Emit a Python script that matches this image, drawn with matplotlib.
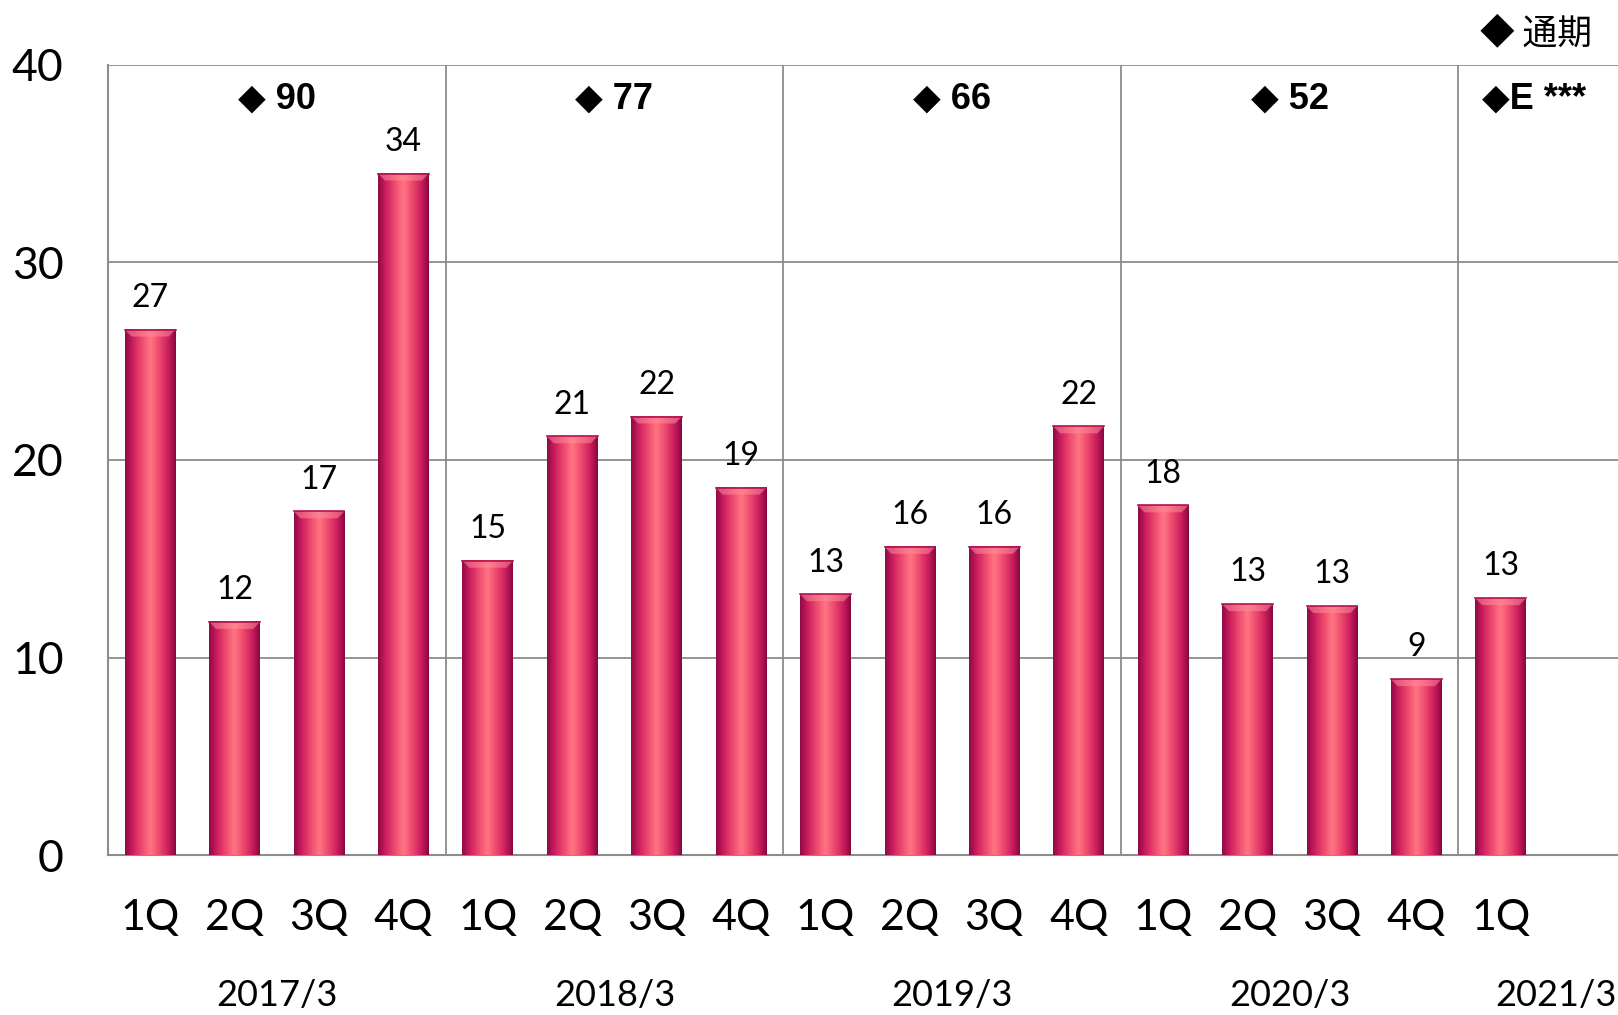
import numpy as np
import matplotlib.pyplot as plt
from matplotlib.colors import LinearSegmentedColormap
import matplotlib.transforms as mtransforms

plt.rcParams['font.family'] = ['Lato', 'Noto Sans CJK JP', 'DejaVu Sans']

quarters = ['1Q', '2Q', '3Q', '4Q'] * 4 + ['1Q']
values = [26.6, 11.8, 17.4, 34.5, 14.9, 21.2, 22.2, 18.6,
          13.2, 15.6, 15.6, 21.7, 17.7, 12.7, 12.6, 8.9, 13.0]
labels = ['27', '12', '17', '34', '15', '21', '22', '19',
          '13', '16', '16', '22', '18', '13', '13', '9', '13']
years = ['2017/3', '2018/3', '2019/3', '2020/3', '2021/3']
totals = ['◆ 90', '◆ 77', '◆ 66', '◆ 52', '◆E ***']

fig = plt.figure(figsize=(16.18, 10.15), dpi=100)
ax = fig.add_axes([108/1618, 1 - 855/1015, 1 - 108/1618, (855 - 65)/1015])

x = np.arange(len(values))

cmap = LinearSegmentedColormap.from_list('bar', [
    (0.0, '#8e0a46'), (0.15, '#cc1d5e'), (0.35, '#f04f70'),
    (0.5, '#ff7584'), (0.65, '#f04f70'), (0.85, '#cc1d5e'), (1.0, '#86083f')])
grad = np.linspace(0, 1, 256).reshape(1, -1)
w = 0.6
for xi, v in zip(x, values):
    ax.imshow(grad, cmap=cmap, aspect='auto', extent=(xi - w/2, xi + w/2, 0, v),
              zorder=3, interpolation='bicubic')
    # light bevel at the top
    bev = 0.35
    ax.fill([xi - w/2, xi + w/2, xi + w/2 - 0.08, xi - w/2 + 0.08],
            [v, v, v - bev, v - bev], color='#ff8d9a', alpha=0.55, zorder=4, lw=0)
    ax.plot([xi - w/2, xi + w/2], [v, v], color='#b01450', lw=1.2, zorder=4)
ax.set_xlim(-0.5, 17.39)
ax.set_ylim(0, 40)

for xi, v, lab in zip(x, values, labels):
    ax.text(xi, v + 0.85, lab, ha='center', va='bottom', fontsize=23, zorder=5)

# grid
for yv in [10, 20, 30, 40]:
    ax.axhline(yv, color='#8c8c8c', lw=1.3, zorder=1)
for xv in [3.5, 7.5, 11.5, 15.5]:
    ax.axvline(xv, color='#8c8c8c', lw=1.3, zorder=1)

for s in ['top', 'right']:
    ax.spines[s].set_visible(False)
for s in ['left', 'bottom']:
    ax.spines[s].set_color('#8c8c8c')
    ax.spines[s].set_linewidth(1.5)

ax.set_yticks([0, 10, 20, 30, 40])
ax.tick_params(axis='y', length=0, labelsize=32, pad=32)
ax.set_xticks(x)
ax.set_xticklabels(quarters)
ax.tick_params(axis='x', length=0, labelsize=31, pad=32)

trans = mtransforms.blended_transform_factory(ax.transData, ax.transAxes)
year_x = [1.5, 5.5, 9.5, 13.5, 16.65]
for xv, yl in zip(year_x, years):
    ax.text(xv, -0.178, yl, transform=trans, ha='center', va='center', fontsize=26)

total_x = [1.5, 5.5, 9.5, 13.5, 16.4]
for xv, t in zip(total_x, totals):
    ax.text(xv, 38.3, t, ha='center', va='center', fontsize=26, fontweight='bold',
            family=['Liberation Sans', 'DejaVu Sans'])

ax.text(16.42, 41.6, '◆ 通期', ha='center', va='center', fontsize=25,
        family=['Noto Sans CJK JP', 'DejaVu Sans'], clip_on=False)

fig.savefig('out.png', dpi=100)
